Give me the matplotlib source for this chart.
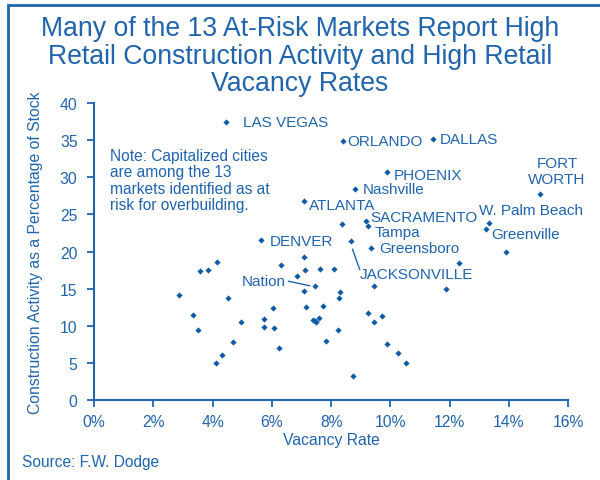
import matplotlib
matplotlib.use("Agg")
import matplotlib.pyplot as plt
from matplotlib.patches import Rectangle
from matplotlib.ticker import FuncFormatter

plt.rcParams['font.family'] = ['Liberation Sans', 'DejaVu Sans']

BLUE = '#1f64ad'
DOT = '#0d5aa8'

title_lines = ['Many of the 13 At-Risk Markets Report High',
               'Retail Construction Activity and High Retail',
               'Vacancy Rates']

# labelled markets: name, vacancy rate (%), construction (% of stock)
labelled_names = ['LAS VEGAS', 'ORLANDO', 'DALLAS', 'PHOENIX', 'Nashville',
                  'ATLANTA', 'SACRAMENTO', 'Tampa', 'Greensboro',
                  'W. Palm Beach', 'Greenville', 'FORT\nWORTH', 'DENVER',
                  'JACKSONVILLE', 'Nation']
labelled_vac = [4.46, 8.39, 11.43, 9.88, 8.81, 7.07, 9.16, 9.24, 9.34,
                13.34, 13.23, 15.05, 5.64, 8.66, 7.46]
labelled_con = [37.4, 34.9, 35.2, 30.7, 28.4, 26.8, 24.1, 23.5, 20.5,
                23.9, 23.0, 27.8, 21.5, 21.4, 15.3]

# label text anchor (left/center unless noted)
label_x = [5.03, 8.55, 11.68, 10.1, 9.07, 7.26, 9.32, 9.46, 9.62,
           13.0, 13.4, 15.62, 5.91, 8.96, 4.99]
label_y = [37.4, 34.9, 35.2, 30.3, 28.4, 26.3, 24.6, 22.6, 20.5,
           25.6, 22.4, 30.8, 21.4, 17.0, 16.1]

# other markets
other_vac = [8.36, 7.07, 4.16, 3.84, 3.58, 6.29, 7.12, 7.63, 8.08, 6.85,
             2.85, 4.52, 3.32, 3.50, 4.97, 4.67, 4.31, 4.10, 5.72, 5.72,
             6.08, 6.04, 6.23, 7.07, 8.29, 8.26, 7.16, 7.72, 7.37, 7.44,
             7.50, 7.59, 8.24, 7.82, 8.74, 9.43, 11.86, 12.31, 13.90, 9.23,
             9.70, 9.46, 9.89, 10.27, 10.54]
other_con = [23.7, 19.2, 18.6, 17.5, 17.4, 18.2, 17.5, 17.7, 17.7, 16.7,
             14.2, 13.8, 11.4, 9.4, 10.5, 7.8, 6.1, 5.0, 10.9, 9.9,
             9.7, 12.4, 7.0, 14.7, 14.5, 13.7, 12.5, 12.7, 10.8, 10.7,
             10.55, 11.0, 9.4, 7.9, 3.3, 15.3, 14.9, 18.5, 19.9, 11.7,
             11.3, 10.5, 7.5, 6.3, 5.0]

x_ticks = [0, 2, 4, 6, 8, 10, 12, 14, 16]
y_ticks = [0, 5, 10, 15, 20, 25, 30, 35, 40]

fig = plt.figure(figsize=(6.0, 4.81), dpi=100)
ax = fig.add_axes([0.157, 0.166, 0.79, 0.618])

ax.scatter(other_vac, other_con, marker='D', s=10, color=DOT, linewidths=0, zorder=3)
ax.scatter(labelled_vac, labelled_con, marker='D', s=10, color=DOT, linewidths=0, zorder=3)

for name, tx, ty in zip(labelled_names, label_x, label_y):
    ha = 'center' if name.startswith('FORT') else 'left'
    ax.text(tx, ty, name, ha=ha, va='center', fontsize=11, color=BLUE,
            linespacing=1.2)

# leader lines
ax.plot([8.72, 8.96], [20.3, 17.6], color=BLUE, lw=1)
ax.plot([6.56, 7.27], [16.0, 15.4], color=BLUE, lw=1)

ax.text(0.54, 33.9, 'Note: Capitalized cities\nare among the 13\n'
        'markets identified as at\nrisk for overbuilding.',
        ha='left', va='top', fontsize=11.2, color=BLUE, linespacing=1.1)

ax.set_xlim(0, 16)
ax.set_ylim(0, 40)
ax.set_xticks(x_ticks)
ax.set_yticks(y_ticks)
ax.xaxis.set_major_formatter(FuncFormatter(lambda v, p: '%d%%' % v))
for s in ['top', 'right']:
    ax.spines[s].set_visible(False)
for s in ['left', 'bottom']:
    ax.spines[s].set_color(BLUE)
    ax.spines[s].set_linewidth(1.5)
ax.tick_params(colors=BLUE, labelcolor=BLUE, labelsize=11.3, length=5, width=1.3,
               direction='out')
ax.tick_params(axis='x', pad=5)
ax.tick_params(axis='y', pad=7)
ax.set_xlabel('Vacancy Rate', fontsize=11.3, color=BLUE, labelpad=2)
ax.set_ylabel('Construction Activity as a Percentage of Stock', fontsize=11.3,
              color=BLUE, labelpad=12)

# title, one text per line
for i, line in enumerate(title_lines):
    fig.text(0.5, 1 - (29 + 27.5 * i) / 481, line, ha='center', va='center',
             fontsize=19.2, color=BLUE)
fig.text(22 / 600, 1 - 462 / 481, 'Source: F.W. Dodge', ha='left', va='center',
         fontsize=11.2, color=BLUE)

fig.patches.append(Rectangle((7.5 / 600, -0.1), 1.2, 1.1 - 5.5 / 481,
                             transform=fig.transFigure, fill=False,
                             edgecolor=BLUE, lw=2))

fig.savefig('out.png', dpi=100)
